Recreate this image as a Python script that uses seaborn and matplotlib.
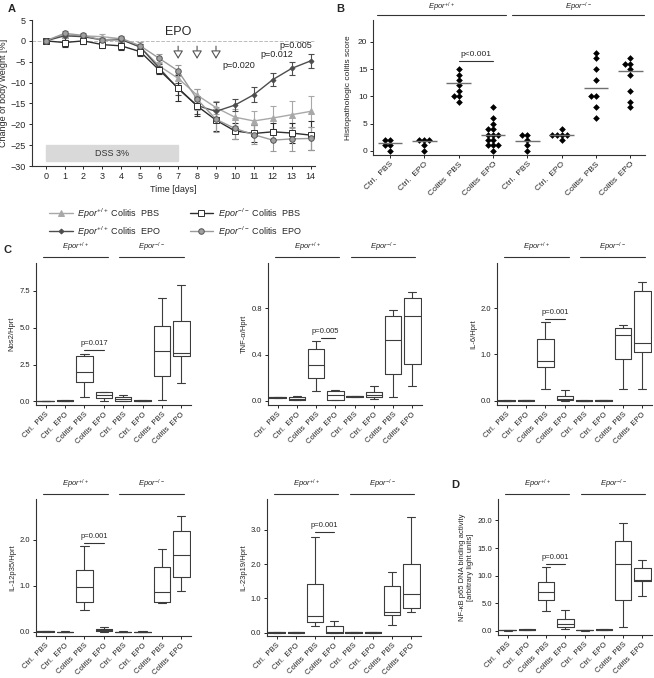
import numpy as np
import pandas as pd
import matplotlib
matplotlib.use('Agg')
import matplotlib.pyplot as plt
import matplotlib.transforms as mtransforms
import seaborn as sns

sns.set_style('ticks')
plt.rcParams['font.family'] = ['Liberation Sans', 'DejaVu Sans']
plt.rcParams['mathtext.fontset'] = 'custom'
plt.rcParams['mathtext.rm'] = 'Liberation Sans'
plt.rcParams['mathtext.it'] = 'Liberation Sans:italic'
plt.rcParams['axes.edgecolor'] = '#333333'
plt.rcParams['axes.linewidth'] = 0.8

W, H = 654, 678
WT = r'$\mathit{Epor}^{+/+}$'
KO = r'$\mathit{Epor}^{-/-}$'

# === PANEL A: body weight ===
DAYS = list(range(15))
WT_PBS = [0, 1.5, 1.2, 1.0, 0.5, -1.5, -6.0, -9.0, -13.0, -16.0, -18.3, -19.2, -18.5, -17.7, -16.9]
WT_PBS_ERR = [0, 0.5, 0.5, 0.6, 0.5, 0.8, 1.0, 1.0, 1.5, 1.5, 2.0, 2.4, 2.8, 3.2, 3.8]
WT_EPO = [0, 1.2, 1.0, 0.2, 0.3, -1.5, -6.5, -11.5, -15.5, -16.9, -15.4, -12.9, -9.3, -6.6, -4.8]
WT_EPO_ERR = [0, 0.5, 0.5, 0.6, 0.5, 0.8, 1.0, 1.5, 2.0, 2.2, 1.5, 1.8, 1.5, 1.5, 1.7]
KO_PBS = [0, -0.4, 0.0, -0.9, -1.2, -2.6, -7.0, -11.3, -15.6, -19.0, -21.6, -22.2, -21.8, -22.1, -22.6]
KO_PBS_ERR = [0, 1.0, 0.8, 0.7, 1.0, 1.0, 1.0, 3.0, 2.5, 2.7, 2.0, 2.0, 2.0, 2.5, 3.5]
KO_EPO = [0, 1.8, 1.3, 0.2, 0.6, -1.2, -4.2, -7.2, -14.0, -18.8, -21.0, -22.5, -23.8, -23.5, -23.4]
KO_EPO_ERR = [0, 0.5, 0.5, 0.5, 0.5, 1.0, 1.0, 1.3, 2.5, 3.0, 2.5, 2.3, 2.6, 2.8, 2.8]
EPO_DAYS = [7, 8, 9]
P_DAYS = [10.2, 12.2, 13.2]
P_LABELS = ['p=0.020', 'p=0.012', 'p=0.005']
P_YPOS = [-6.0, -3.2, -1.0]

# === PANEL B: histology scores ===
CATS = ['Ctrl.  PBS', 'Ctrl.  EPO', 'Colitis  PBS', 'Colitis  EPO'] * 2
B_VALUES = [[2, 2, 1, 1, 0], [2, 2, 2, 1, 0], [15, 14, 13, 12, 11, 10, 10, 9],
            [8, 6, 5, 4, 4, 3, 3, 3, 2, 2, 1, 1, 1, 0], [3, 3, 2, 1, 0], [4, 3, 3, 3, 3, 2],
            [18, 17, 15, 13, 10, 10, 8, 6], [17, 16, 16, 15, 14, 11, 9, 8]]
B_MEANS = [1.4, 1.9, 12.5, 2.9, 1.9, 2.9, 11.5, 14.6]

# === PANELS C/D: five-number summaries (min, q1, median, q3, max) ===
NOS2 = [[0.0, 0.01, 0.02, 0.03, 0.04], [0.02, 0.04, 0.05, 0.07, 0.09], [0.3, 1.3, 2.0, 3.05, 3.2],
        [0.05, 0.25, 0.45, 0.6, 0.65], [0.0, 0.05, 0.15, 0.3, 0.45], [0.0, 0.02, 0.04, 0.06, 0.08],
        [0.12, 1.7, 3.4, 5.1, 7.05], [1.27, 3.05, 3.3, 5.46, 7.9]]
TNF = [[0.025, 0.028, 0.03, 0.033, 0.035], [0.005, 0.01, 0.02, 0.03, 0.045], [0.088, 0.2, 0.31, 0.445, 0.515],
       [0.005, 0.012, 0.055, 0.085, 0.095], [0.035, 0.038, 0.04, 0.042, 0.045], [0.015, 0.035, 0.055, 0.08, 0.125],
       [0.03, 0.235, 0.525, 0.735, 0.785], [0.13, 0.32, 0.73, 0.885, 0.94]]
IL6 = [[0, 0.002, 0.005, 0.008, 0.01], [0, 0.003, 0.008, 0.012, 0.015], [0.26, 0.73, 0.86, 1.34, 1.7],
       [0.0, 0.01, 0.05, 0.1, 0.24], [0, 0.002, 0.005, 0.008, 0.01], [0, 0.003, 0.008, 0.012, 0.015],
       [0.26, 0.9, 1.41, 1.57, 1.64], [0.26, 1.05, 1.25, 2.36, 2.55]]
IL12 = [[0, 0.003, 0.008, 0.012, 0.015], [0, 0.002, 0.004, 0.006, 0.008], [0.48, 0.645, 0.97, 1.34, 1.86],
        [0.005, 0.01, 0.045, 0.065, 0.115], [0, 0.002, 0.004, 0.006, 0.008], [0, 0.002, 0.004, 0.006, 0.008],
        [0.62, 0.66, 0.86, 1.42, 1.81], [0.89, 1.2, 1.67, 2.2, 2.52]]
IL23 = [[0, 0.002, 0.004, 0.006, 0.008], [0, 0.002, 0.004, 0.006, 0.008], [0.195, 0.32, 0.49, 1.43, 2.8],
        [0, 0.0, 0.02, 0.19, 0.33], [0, 0.002, 0.004, 0.006, 0.008], [0, 0.002, 0.004, 0.006, 0.008],
        [0.22, 0.5, 0.61, 1.37, 1.78], [0.6, 0.73, 1.13, 2.0, 3.36]]
NFKB = [[0, 0.02, 0.05, 0.08, 0.1], [0.05, 0.1, 0.15, 0.2, 0.25], [3.6, 5.6, 7.1, 8.85, 11.5],
        [0.3, 0.73, 1.2, 2.06, 3.76], [0, 0.02, 0.05, 0.08, 0.1], [0.05, 0.1, 0.15, 0.2, 0.25],
        [0.73, 5.5, 12.1, 16.2, 19.6], [6.3, 9.0, 9.2, 11.3, 12.8]]

fig = plt.figure(figsize=(W / 100, H / 100), dpi=100)


def add_ax(left, top, right, bottom):
    return fig.add_axes([left / W, 1 - bottom / H, (right - left) / W, (bottom - top) / H])


def group_headers(ax, spans, y_line=1.04, y_text=1.11):
    trans = mtransforms.blended_transform_factory(ax.transData, ax.transAxes)
    for (x0, x1), lab in zip(spans, [WT, KO]):
        ax.plot([x0, x1], [y_line, y_line], color='#333333', lw=0.8, transform=trans, clip_on=False)
        ax.text((x0 + x1) / 2, y_text, lab, transform=trans, ha='center', va='center', fontsize=5.5)


def cat_axis(ax, fs=5.5):
    ax.set_xticks(range(8))
    ax.set_xticklabels(CATS, rotation=45, ha='right', rotation_mode='anchor', fontsize=fs)
    ax.set_xlabel('')
    ax.tick_params(length=2.5, width=0.7, pad=1.5, colors='#222222')
    sns.despine(ax=ax)


# ---------- A ----------
axA = add_ax(32, 20, 315, 166)
series = [
    (WT_PBS, WT_PBS_ERR, '#a8a8a8', '^', '#a8a8a8', '#a8a8a8', WT + ' Colitis  PBS'),
    (WT_EPO, WT_EPO_ERR, '#4d4d4d', 'D', '#4d4d4d', '#4d4d4d', WT + ' Colitis  EPO'),
    (KO_PBS, KO_PBS_ERR, '#2e2e2e', 's', 'white', '#2e2e2e', KO + ' Colitis  PBS'),
    (KO_EPO, KO_EPO_ERR, '#9a9a9a', 'o', '#a0a0a0', '#555555', KO + ' Colitis  EPO'),
]
axA.axhline(0, color='#bbbbbb', lw=0.7, ls='--', zorder=0)
for vals, err, col, mk, mfc, mec, lab in series:
    axA.errorbar(DAYS, vals, yerr=err, fmt='none', ecolor=col, elinewidth=0.8, capsize=2, capthick=0.8, zorder=2)
    sns.lineplot(x=DAYS, y=vals, ax=axA, color=col, lw=1.0, marker=mk, markersize=4 if mk != 'D' else 2.5,
                 markerfacecolor=mfc, markeredgecolor=mec, markeredgewidth=0.7, label=lab, zorder=3)
handles, labels = axA.get_legend_handles_labels()
if axA.get_legend():
    axA.get_legend().remove()
axA.add_patch(plt.Rectangle((0, -28.8), 7, 3.8, color='#d9d9d9', zorder=1))
axA.text(3.5, -26.9, 'DSS 3%', ha='center', va='center', fontsize=6.5, color='#333333')
axA.text(7.0, 2.1, 'EPO', ha='center', va='center', fontsize=9)
for d in EPO_DAYS:
    axA.annotate('', xy=(d, -5.0), xytext=(d, -0.6),
                 arrowprops=dict(arrowstyle='-|>,head_length=0.5,head_width=0.3', fc='white', ec='#555555', lw=0.8))
for d, lab, y in zip(P_DAYS, P_LABELS, P_YPOS):
    axA.text(d, y, lab, ha='center', va='center', fontsize=6.5, color='#222222')
axA.set_xlim(-0.72, 14.23)
axA.set_ylim(-30, 5)
axA.set_xticks(DAYS)
axA.set_yticks(range(-30, 6, 5))
axA.tick_params(labelsize=6.5, length=2.5, width=0.7, pad=2)
axA.set_xlabel('Time [days]', fontsize=6.5, labelpad=3)
axA.set_ylabel('Change of body weight [%]', fontsize=6.5, labelpad=2)
sns.despine(ax=axA)
fig.legend(handles, labels, ncol=2, loc='upper center', bbox_to_anchor=(0.268, 0.708), frameon=False,
           fontsize=6.5, handlelength=2.6, columnspacing=3.2, labelspacing=0.4, handletextpad=0.5)

# ---------- B ----------
axB = add_ax(373, 20, 645, 155)
dfB = pd.DataFrame([(i, v) for i, vals in enumerate(B_VALUES) for v in vals], columns=['pos', 'score'])
sns.swarmplot(data=dfB, x='pos', y='score', order=range(8), ax=axB, color='black', marker='D', size=3.4)
axB.hlines(B_MEANS, np.arange(8) - 0.36, np.arange(8) + 0.36, color='#707070', lw=1.0, zorder=4)
axB.plot([2, 3], [16.4, 16.4], color='#333333', lw=0.8)
axB.text(2.5, 17.1, 'p<0.001', ha='center', va='bottom', fontsize=6)
axB.set_xlim(-0.5, 7.43)
axB.set_ylim(-0.75, 24)
axB.set_yticks([0, 5, 10, 15, 20])
axB.set_ylabel('Histopathologic colitis score', fontsize=6, labelpad=4)
cat_axis(axB, fs=6)
axB.tick_params(axis='y', labelsize=6)
group_headers(axB, [(-0.38, 3.38), (3.56, 7.4)], y_line=1.037, y_text=1.096)

# ---------- C / D ----------
panels = [
    ((36, 263, 191, 405), NOS2, 'Nos2/Hprt', (-0.25, 9.4), [0, 2.5, 5, 7.5], 'p=0.017', 3.5, 2.0),
    ((268, 263, 422, 405), TNF, 'TNF-α/Hprt', (-0.035, 1.19), [0, 0.4, 0.8], 'p=0.005', 0.545, 2.25),
    ((497, 263, 652, 405), IL6, 'IL-6/Hprt', (-0.09, 2.97), [0, 1, 2], 'p=0.001', 1.77, 2.0),
    ((36, 499, 191, 636), IL12, 'IL-12p35/Hprt', (-0.09, 2.89), [0, 1, 2], 'p=0.001', 1.94, 2.0),
    ((267, 499, 421, 636), IL23, 'IL-23p19/Hprt', (-0.1, 3.9), [0, 1, 2, 3], 'p=0.001', 2.94, 2.0),
    ((498, 499, 652, 635), NFKB, 'NF-κB p65 DNA binding activity\n[arbitrary light units]', (-0.8, 23.9),
     [0, 5, 10, 15, 20], 'p=0.001', 12.1, 2.0),
]
for box, stats, ylab, ylim, yticks, ptxt, py, px0 in panels:
    ax = add_ax(*box)
    df = pd.DataFrame([(i, v) for i, vals in enumerate(stats) for v in vals], columns=['pos', 'val'])
    sns.boxplot(data=df, x='pos', y='val', order=range(8), ax=ax, whis=(0, 100), width=0.85, fill=False,
                color='#3c3c3c', linewidth=0.8, showfliers=False)
    ax.plot([px0, 3.0], [py, py], color='#333333', lw=0.8)
    ax.annotate(ptxt, xy=(2.5, py), xytext=(0, 2), textcoords='offset points', ha='center', va='bottom',
                fontsize=5.5)
    ax.set_xlim(-0.5, 7.5)
    ax.set_ylim(*ylim)
    ax.set_yticks(yticks)
    ax.set_yticklabels([f'{t:.1f}' for t in yticks], fontsize=5.5)
    ax.set_ylabel(ylab, fontsize=5.5, labelpad=3)
    cat_axis(ax)
    group_headers(ax, [(-0.15, 3.2), (3.8, 7.15)])

fig.text(8 / W, 1 - 9 / H, 'A', fontsize=8, fontweight='bold', va='center')
fig.text(336 / W, 1 - 9 / H, 'B', fontsize=8, fontweight='bold', va='center')
fig.text(3 / W, 1 - 250 / H, 'C', fontsize=8, fontweight='bold', va='center')
fig.text(451 / W, 1 - 485 / H, 'D', fontsize=8, fontweight='bold', va='center')

fig.savefig('out.png', dpi=100)
